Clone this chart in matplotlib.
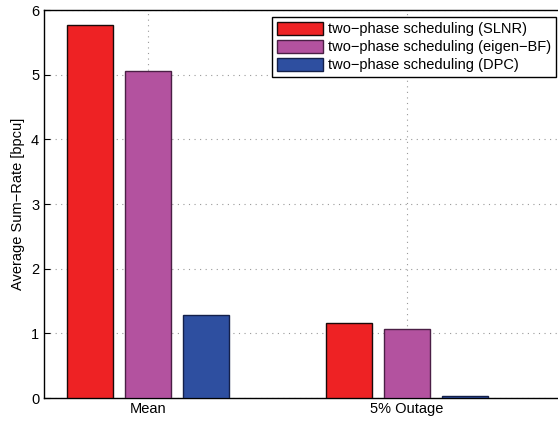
import matplotlib.pyplot as plt
import numpy as np

plt.rcParams['font.family'] = ['Liberation Sans', 'DejaVu Sans']

# данные
categories = ['Mean', '5% Outage']
series = ['two\u2212phase scheduling (SLNR)',
          'two\u2212phase scheduling (eigen\u2212BF)',
          'two\u2212phase scheduling (DPC)']
slnr = [5.77, 1.16]
eigen_bf = [5.05, 1.07]
dpc = [1.29, 0.035]

colors = ['#ee2224', '#b3529f', '#2e4fa0']
edges = ['#1a0a0a', '#4a1f45', '#14204a']

fig = plt.figure(figsize=(5.58, 4.21), dpi=100)
# правая граница осей за краем картинки
ax = fig.add_axes([44 / 558, 23 / 421, 517 / 558, 388 / 421])

x = np.arange(1, len(categories) + 1)
offsets = [-0.224, 0.0, 0.224]
for vals, off, c, ec, name in zip([slnr, eigen_bf, dpc], offsets, colors, edges, series):
    ax.bar(x + off, vals, width=0.178, color=c, edgecolor=ec, linewidth=1.0,
           label=name, zorder=3)

ax.set_xlim(0.598, 2.594)
ax.set_ylim(0, 6)
ax.set_xticks(x)
ax.set_xticklabels(categories)
ax.set_yticks(range(0, 7))
ax.set_ylabel('Average Sum\u2212Rate [bpcu]', fontsize=10.5)

# сетка пунктиром
ax.grid(True, color='#999999', linestyle=(0, (1, 4)), linewidth=0.8, zorder=0)
ax.tick_params(direction='in', labelsize=10.5, length=4, width=0.8, right=False)
ax.tick_params(axis='x', pad=3)
for s in ax.spines.values():
    s.set_linewidth(1.0)
    s.set_color('black')
ax.spines['right'].set_visible(False)

leg = ax.legend(loc='upper right', bbox_to_anchor=(556 / 558, 1 - 17 / 421),
                bbox_transform=fig.transFigure, borderaxespad=0,
                fontsize=10.5, handlelength=3.15, handleheight=0.95,
                fancybox=False, framealpha=1, edgecolor='black',
                labelspacing=0.25, handletextpad=0.35, borderpad=0.35)
leg.get_frame().set_linewidth(1.0)

plt.savefig('out.png', dpi=100)
